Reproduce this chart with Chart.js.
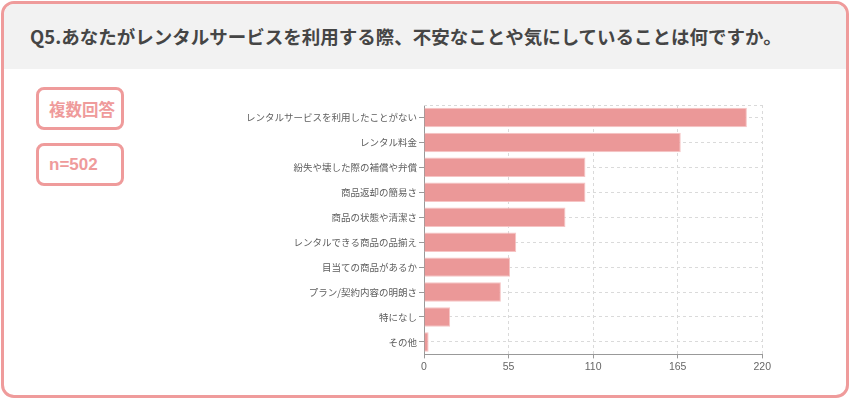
<!DOCTYPE html>
<html lang="ja">
<head>
<meta charset="utf-8">
<script src="https://cdn.jsdelivr.net/npm/chart.js@4"></script>
<style>
  html, body { margin: 0; padding: 0; background: #fff; }
  body { width: 850px; height: 399px; position: relative; overflow: hidden; font-family: "Noto Sans CJK JP", "Noto Sans", sans-serif; }
  .card { position: absolute; left: 1px; top: 1px; width: 848px; height: 397px; box-sizing: border-box; border: 3px solid #ef9b9b; border-radius: 13px; overflow: hidden; background: #fff; }
  .head { position: absolute; left: 0; top: 0; right: 0; height: 65px; background: #f2f2f2; }
  .title { position: absolute; left: 26px; top: 19px; font-size: 18.5px; font-weight: 700; color: #454545; white-space: nowrap; letter-spacing: 0; }
  .badge { position: absolute; left: 36px; width: 88px; height: 43px; box-sizing: border-box; border: 3px solid #ef9b9b; border-radius: 8px; color: #ef9b9b; font-weight: 700; font-size: 16.5px; display: flex; align-items: center; padding-left: 10px; }
  .b1 { top: 87px; }
  .b2 { top: 143px; font-family: "Liberation Sans", Arial, sans-serif; font-size: 17px; padding-left: 10px; }
  .chartbox { position: absolute; left: 140px; top: 95px; width: 633px; height: 280px; }
</style>
</head>
<body>
<div class="card">
  <div class="head"><div class="title">Q5.あなたがレンタルサービスを利用する際、不安なことや気にしていることは何ですか。</div></div>
</div>
<div class="badge b1">複数回答</div>
<div class="badge b2">n=502</div>
<div class="chartbox"><canvas id="c"></canvas></div>
<script>
const categories = [
  "レンタルサービスを利用したことがない",
  "レンタル料金",
  "紛失や壊した際の補償や弁償",
  "商品返却の簡易さ",
  "商品の状態や清潔さ",
  "レンタルできる商品の品揃え",
  "目当ての商品があるか",
  "プラン/契約内容の明朗さ",
  "特になし",
  "その他"
];
const counts = [210, 167, 105, 105, 92, 60, 56, 50, 17, 3];
const xTicks = [0, 55, 110, 165, 220];

const topDash = {
  id: 'topDash',
  beforeDatasetsDraw(chart) {
    const { ctx, chartArea } = chart;
    ctx.save();
    ctx.strokeStyle = '#d9d9d9';
    ctx.lineWidth = 1;
    ctx.setLineDash([3, 3]);
    ctx.beginPath();
    ctx.moveTo(chartArea.left, chartArea.top + 0.5);
    ctx.lineTo(chartArea.right, chartArea.top + 0.5);
    ctx.stroke();
    ctx.restore();
  }
};

new Chart(document.getElementById('c'), {
  type: 'bar',
  data: {
    labels: categories,
    datasets: [{
      data: counts,
      backgroundColor: '#eb9898',
      borderColor: '#f6c4c4',
      borderWidth: 1,
      categoryPercentage: 1,
      barPercentage: 0.78
    }]
  },
  options: {
    indexAxis: 'y',
    responsive: true,
    maintainAspectRatio: false,
    animation: false,
    layout: { padding: { top: 10, right: 10 } },
    plugins: { legend: { display: false }, tooltip: { enabled: false } },
    scales: {
      x: {
        min: xTicks[0],
        max: xTicks[xTicks.length - 1],
        afterBuildTicks: (scale) => { scale.ticks = xTicks.map(v => ({ value: v })); },
        grid: { color: '#dadada', tickColor: '#999', tickLength: 4, drawOnChartArea: true },
        border: { color: '#999', width: 1, dash: [3, 3] },
        ticks: { color: '#666', font: { size: 10.5, family: '"Liberation Sans", Arial, sans-serif' }, padding: 2, maxRotation: 0 }
      },
      y: {
        afterFit: (scale) => { scale.width = 284; },
        grid: { color: '#dadada', tickColor: '#999', tickLength: 5, offset: false },
        border: { color: '#999', width: 1, dash: [3, 3] },
        ticks: { color: '#5e5e5e', font: { size: 9.5, family: '"Noto Sans CJK JP", sans-serif' }, padding: 2 }
      }
    }
  },
  plugins: [topDash]
});
</script>
</body>
</html>
